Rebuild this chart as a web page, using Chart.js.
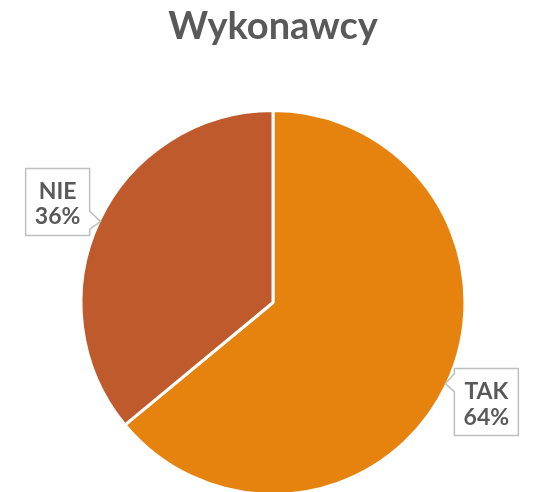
<!DOCTYPE html>
<html>
<head>
<meta charset="utf-8">
<script src="https://cdn.jsdelivr.net/npm/chart.js@4/dist/chart.umd.min.js"></script>
<style>
  html, body { margin: 0; padding: 0; background: #fff; overflow: hidden; }
  #wrap { width: 534px; height: 496px; position: relative; }
</style>
</head>
<body>
<div id="wrap"><canvas id="myCanvas"></canvas></div>
<script>
// data
var labels = ['TAK', 'NIE'];
var values = [64, 36];
var sliceColors = ['#E6830F', '#BE5A2B'];
var titleText = 'Wykonawcy';

// callout boxes with a little pointer (like the office style data labels)
var calloutPlugin = {
    id: 'callouts',
    afterDatasetsDraw: function(chart, args, opts) {
        var ctx = chart.ctx;
        var meta = chart.getDatasetMeta(0);
        var total = values.reduce(function(a, b) { return a + b; }, 0);
        meta.data.forEach(function(arc, i) {
            var p = arc.getProps(['x', 'y', 'startAngle', 'endAngle', 'outerRadius'], true);
            var mid = (p.startAngle + p.endAngle) / 2;
            var r = p.outerRadius - 1.5;
            var tx = p.x + Math.cos(mid) * r;
            var ty = p.y + Math.sin(mid) * r;
            var off = opts.offsets[i];
            var bx = tx + off.dx, by = ty + off.dy;
            var w = opts.boxWidth, h = opts.boxHeight;
            var left = Math.cos(mid) < 0;
            var b0 = ty - 10, b1 = ty + 8;

            ctx.save();
            ctx.beginPath();
            ctx.moveTo(bx, by);
            if (left) {
                ctx.lineTo(bx + w, by);
                ctx.lineTo(bx + w, b0);
                ctx.lineTo(tx, ty);
                ctx.lineTo(bx + w, b1);
                ctx.lineTo(bx + w, by + h);
                ctx.lineTo(bx, by + h);
            } else {
                ctx.lineTo(bx + w, by);
                ctx.lineTo(bx + w, by + h);
                ctx.lineTo(bx, by + h);
                ctx.lineTo(bx, b1);
                ctx.lineTo(tx, ty);
                ctx.lineTo(bx, b0);
            }
            ctx.closePath();
            ctx.fillStyle = '#ffffff';
            ctx.fill();
            ctx.lineWidth = 1.5;
            ctx.strokeStyle = '#BFBFBF';
            ctx.stroke();

            ctx.fillStyle = '#595959';
            ctx.font = 'bold 23px Lato';
            ctx.textAlign = 'center';
            ctx.textBaseline = 'middle';
            var pct = Math.round(values[i] / total * 100) + '%';
            ctx.fillText(labels[i], bx + w / 2, by + 23);
            ctx.fillText(pct, bx + w / 2, by + 48.5);
            ctx.restore();
        });
    }
};

var ctx = document.getElementById('myCanvas');

var PieGraph = new Chart(ctx, {
    type: 'pie',
    data: {
        labels: labels,
        datasets: [{
            data: values,
            backgroundColor: sliceColors,
            borderColor: '#ffffff',
            borderWidth: 3
        }]
    },
    options: {
        responsive: true,
        maintainAspectRatio: false,
        animation: false,
        devicePixelRatio: 1,
        layout: { padding: { left: 12, right: 0, top: 0, bottom: 0 } },
        plugins: {
            legend: { display: false },
            tooltip: { enabled: false },
            title: {
                display: true,
                text: titleText,
                color: '#595959',
                font: { family: 'Lato', size: 38, weight: 'bold' },
                padding: { top: 4.2, bottom: 59.2 }
            },
            callouts: {
                boxWidth: 64,
                boxHeight: 67,
                offsets: [{ dx: 9, dy: -15 }, { dx: -75, dy: -53 }]
            }
        }
    },
    plugins: [calloutPlugin]
});
</script>
</body>
</html>
